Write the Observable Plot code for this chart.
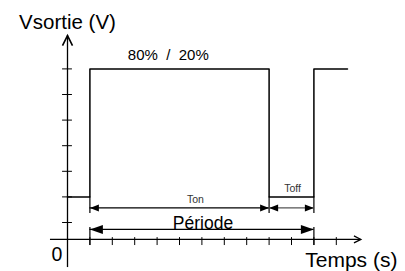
<!DOCTYPE html>
<html>
<head>
<meta charset="utf-8">
<script src="https://cdn.jsdelivr.net/npm/d3@7"></script>
<script src="https://cdn.jsdelivr.net/npm/@observablehq/plot@0.6"></script>
<style>
  html, body { margin: 0; padding: 0; background: #fff; }
</style>
</head>
<body>
<div id="chart"></div>
<script>
// ---- data ----
const timeTicks = [1, 2, 3, 4, 5, 6, 7, 8, 9, 10, 11, 12];
const voltTicks = [1, 2, 3, 4, 5, 6, 7];
const signalT = [0, 1, 1, 9, 9, 11, 11, 12.5];
const signalV = [2, 2, 7, 7, 2, 2, 7, 7];
const tStart = 1, tOnEnd = 9, tPeriodEnd = 11;   // Ton = 8, Toff = 2, Période = 10
const dutyLabel = "80%\u00a0 /\u00a0 20%";
const axisOriginV = 0.34;

// ---- derived tables ----
const signal = signalT.map((t, i) => ({t, v: signalV[i]}));
const spans = [
  {t1: tStart, t2: tOnEnd, v: 1.57, color: "#000", L: 9, W: 3.5},
  {t1: tOnEnd, t2: tPeriodEnd, v: 1.57, color: "#555", L: 9, W: 3.5},
  {t1: tStart, t2: tPeriodEnd, v: 0.73, color: "#000", L: 13, W: 4.5}
];
const heads = spans.flatMap(s => [
  {t: s.t1, v: s.v, rot: 180, L: s.L, W: s.W},
  {t: s.t2, v: s.v, rot: 0, L: s.L, W: s.W}
]);

function headSymbol(L, W) {
  return {draw(ctx) { ctx.moveTo(0, 0); ctx.lineTo(-L, -W); ctx.lineTo(-L, W); ctx.closePath(); }};
}
function chevron(L, W) {
  return {draw(ctx) { ctx.moveTo(-L, -W); ctx.lineTo(0, 0); ctx.lineTo(-L, W); }};
}

const font = "'Liberation Sans', Arial, sans-serif";

const headMarks = heads.map(h => Plot.dot([h], {
  x: "t", y: "v", symbol: headSymbol(h.L, h.W), rotate: h.rot, fill: "#000", stroke: "none"
}));

const chart = Plot.plot({
  width: 405,
  height: 271,
  margin: 0,
  x: {domain: [0, 10], range: [67, 291], axis: null},
  y: {domain: [0, 7], range: [247.6, 68.4], axis: null},
  style: {fontFamily: font, background: "#fff", color: "#000"},
  marks: [
    // axes
    Plot.ruleX([0], {y1: -0.76, y2: 8.3, stroke: "#000", strokeWidth: 1.3}),
    Plot.ruleY([axisOriginV], {x1: -0.76, x2: 13.1, stroke: "#000", strokeWidth: 1.3}),
    Plot.ruleY(voltTicks, {x1: -0.22, x2: 0.22, stroke: "#000", strokeWidth: 1}),
    Plot.ruleX(timeTicks, {y1: 0.1, y2: 0.41, stroke: "#000", strokeWidth: 1}),
    Plot.dot([{t: 0, v: 8.3}], {x: "t", y: "v", symbol: chevron(10, 5), rotate: -90, fill: "none", stroke: "#000", strokeWidth: 1.6}),
    Plot.dot([{t: 13.1, v: axisOriginV}], {x: "t", y: "v", symbol: chevron(7, 3.5), rotate: 0, fill: "none", stroke: "#000", strokeWidth: 1.2}),
    // signal
    Plot.line(signal, {x: "t", y: "v", stroke: "#000", strokeWidth: 1.5}),
    // bracket ticks
    Plot.ruleX([tStart, tOnEnd, tPeriodEnd], {y1: 1.35, y2: 2, stroke: "#000", strokeWidth: 1.2}),
    Plot.ruleX([tStart, tPeriodEnd], {y1: 0.1, y2: 0.8, stroke: "#000", strokeWidth: 1.2}),
    // span lines
    Plot.ruleY(spans, {y: "v", x1: "t1", x2: "t2", stroke: "color", strokeWidth: 1.3}),
    ...headMarks,
    // texts
    Plot.text(["Vsortie (V)"], {x: 0, y: 8.83, fontSize: 20.5, fill: "#000"}),
    Plot.text([dutyLabel], {x: 4.5, y: 7.55, fontSize: 15, fill: "#000"}),
    Plot.text(["Ton"], {x: 5.71, y: 1.875, fontSize: 10.5, fill: "#333"}),
    Plot.text(["Toff"], {x: 10.05, y: 2.34, fontSize: 10.5, fill: "#333"}),
    Plot.text(["Période"], {x: 6.05, y: 0.98, fontSize: 17.5, fill: "#000"}),
    Plot.text(["0"], {x: -0.47, y: -0.25, fontSize: 19.5, fill: "#000"}),
    Plot.text(["Temps (s)"], {x: 12.67, y: -0.46, fontSize: 21, fill: "#000"})
  ]
});
document.getElementById("chart").appendChild(chart);
</script>
</body>
</html>
